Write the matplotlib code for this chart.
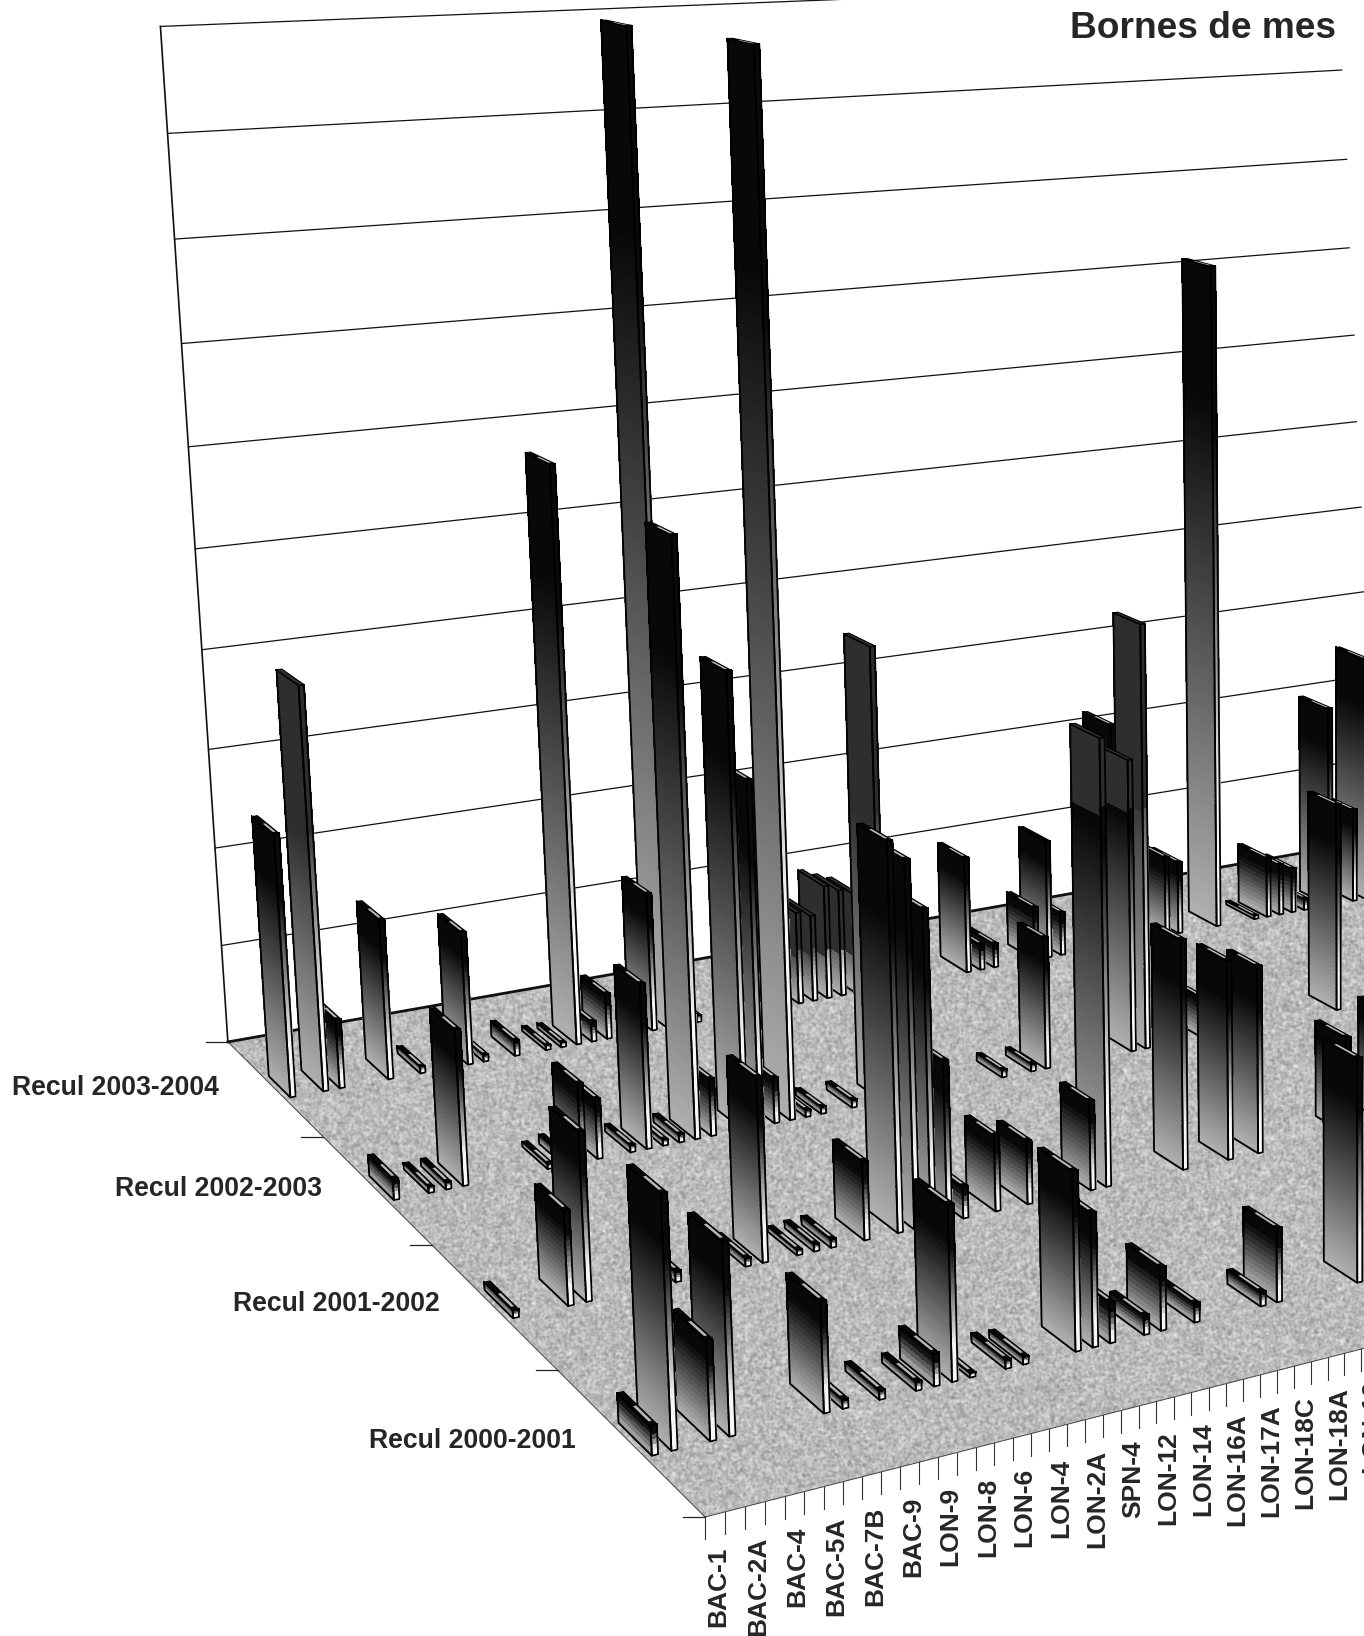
import numpy as np, matplotlib
matplotlib.use('Agg')
import matplotlib.pyplot as plt
from matplotlib.collections import PolyCollection

title_text = "Bornes de mes"
series_names = ["Recul 2000-2001", "Recul 2001-2002", "Recul 2002-2003", "Recul 2003-2004"]
station_labels = ["BAC-1", "BAC-2A", "BAC-4", "BAC-5A", "BAC-7B", "BAC-9", "LON-9", "LON-8", "LON-6", "LON-4",
                  "LON-2A", "SPN-4", "LON-12", "LON-14", "LON-16A", "LON-17A", "LON-18C", "LON-18A", "LON-19"]

cells_2000_01 = [0, 1, 3, 4, 9, 10, 12, 14, 15, 16, 17, 19, 20, 23, 24, 25, 27, 28, 30, 34, 35, 40]
values_2000_01 = [.25, 2.10, .84, 1.61, .94, .08, .08, .08, .28, 1.51, .04, .08, .07, 1.56, 1.17, .36, .17, .56, .17, .13, .66, 2.01]

cells_2001_02 = [0, 3, 4, 9, 13, 14, 16, 17, 18, 20, 22, 23, 24, 25, 26, 28, 30, 34, 35, 40, 43, 45, 51, 54]
values_2001_02 = [.07, .85, 1.51, .10, .08, 1.68, .05, .07, .08, .73, 3.57, 3.38, 2.91, 1.50, .30, .71, .60, .85, 4.19, 2.20, 1.92, 1.81, .95, 1.10]

cells_2002_03 = [0, 2, 3, 4, 9, 10, 11, 12, 14, 15, 16, 17, 18, 19, 21, 22, 23, 24, 25, 26, 28, 30, 38, 40, 41, 47, 48, 52, 62]
values_2002_03 = [.20, .06, .07, 1.48, .05, .09, .76, .58, .07, 1.60, .06, .08, 5.74, .56, 4.42, 3.37, .45, 10.08, .07, .07, .08, 4.47, .08, .08, 1.34, 2.99, 4.33, .42, 2.18]

cells_2003_04 = [0, 2, 3, 6, 8, 11, 12, 14, 16, 17, 18, 19, 20, 23, 24, 25, 26, 33, 34, 35, 36, 37, 38, 45, 46, 47,
                 50, 51, 52, 56, 60, 61, 64, 67, 68, 69, 70, 71, 73, 75, 76]
values_2003_04 = [2.61, 4.01, .69, 1.61, .07, 1.35, .07, .16, .05, .05, 5.86, .21, .47, 1.43, 10.00, .96, .07, .97, .91, 1.20, 1.13, 1.07, .38, 1.25, .28, .26,
                  .58, 1.28, .47, 2.44, .88, .80, 7.24, .04, .67, .57, .50, .13, 2.25, 1.05, 2.75]

# (row, cell) pairs printed with a flat dark upper part in the scan
dark_tops = {(3, 2), (2, 30), (1, 35), (3, 51), (2, 47), (2, 48)}
dark_group = {(3, 33), (3, 34), (3, 35), (3, 36), (3, 37)}

# perspective of the chart
A = np.array([705., 1517.]); Vx = np.array([7700., -273.]); Vy = np.array([-1182., -362.]); Vz = np.array([1361., 18100.])
al, be, ga = 0.002874, 0.0846, -0.00752
wx, wy = 0.16, 0.113

def proj(X, Y, Z):
    X, Y, Z = np.broadcast_arrays(np.asarray(X, float), np.asarray(Y, float), np.asarray(Z, float))
    w = al*X + be*Y + 1 + ga*Z
    px = (al*X*Vx[0] + be*Y*Vy[0] + A[0] + ga*Z*Vz[0]) / w
    py = (al*X*Vx[1] + be*Y*Vy[1] + A[1] + ga*Z*Vz[1]) / w
    return np.column_stack([px.ravel(), py.ravel()])

fig = plt.figure(figsize=(13.64, 16.36), dpi=100, facecolor='white')
ax = fig.add_axes([0, 0, 1, 1])
ax.set_xlim(0, 1364); ax.set_ylim(1636, 0); ax.axis('off')
FONT = 'Liberation Sans'

# floor: printed grain of the scan, as a fixed hash pattern
floor = proj([0, 300, 300, 0], [0, 0, 4, 4], [0, 0, 0, 0])
gy, gx = np.mgrid[0:1636:1636j, 0:1364:1364j]
grain = np.abs(np.modf(np.sin(gx*12.9898 + gy*78.233)*43758.5453)[0])
def soften(a):
    return (a + np.roll(a, 1, 0) + np.roll(a, 1, 1) + np.roll(a, -1, 0) + np.roll(a, -1, 1))/5
smooth = soften(soften(grain))
tex = np.clip(.73 + (smooth - .5)*.55, 0, 1)
im = ax.imshow(tex, cmap='gray', vmin=0, vmax=1, extent=(0, 1364, 1636, 0), aspect='auto', zorder=1, interpolation='bilinear')
clip = plt.Polygon(floor, closed=True, transform=ax.transData, fc='none', ec='none')
ax.add_patch(clip)
im.set_clip_path(clip)
ax.set_xlim(0, 1364); ax.set_ylim(1636, 0)
ax.plot(*proj([0, 300], [0, 0], [0, 0]).T, color='#444444', lw=.7, zorder=2)
ax.plot(*proj([0, 0], [0, 4], [0, 0]).T, color='#444444', lw=.7, zorder=2)

# wall
Xs = np.linspace(0, 300, 1500)
for z in range(0, 11):
    p = proj(Xs, np.full_like(Xs, 4.), np.full_like(Xs, float(z)))
    keep = p[:, 0] < 1344 + 0.04*(p[:, 1] - 67)
    ax.plot(p[keep, 0], p[keep, 1], color='#111111', lw=2.0 if z == 0 else 0.9, zorder=2)
ax.plot(*proj([0, 0], [4, 4], [0, 10]).T, color='#111111', lw=1.2, zorder=2)

# ticks
for y in range(5):
    q = proj([0], [y], [0])[0]
    ax.plot([q[0]-22, q[0]], [q[1], q[1]], color='#222222', lw=.9, zorder=2)
for x in range(0, 40):
    q = proj([x], [0], [0])[0]
    ax.plot([q[0], q[0]], [q[1], q[1]+22], color='#333333', lw=.8, zorder=2)

# bars
def grey(v):
    return (v, v, v, 1)

polys, fcs, ecs, lws, aas = [], [], [], [], []
def add(v, fc, ec='none', lw=0.0, aa=True):
    polys.append(v); fcs.append(fc); ecs.append(ec); lws.append(lw); aas.append(aa)

def dark_limit(x):
    return 833 - (x - 300)*0.03

def bar(cell, row, z):
    x0, x1 = cell + .5 - wx, cell + .5 + wx
    shrink = max(.9, 1 - .002*cell) if row == 3 else max(.8, 1 - .0055*cell)
    y0 = row + .5 - wy
    y1 = y0 + 2*wy*shrink
    n = int(np.clip(z*22, 6, 160))
    levels = np.linspace(z, 0, n+1)
    def tone(q, c):
        ym, xm = q[:, 1].mean(), q[:, 0].mean()
        if (row, cell) in dark_tops and ym < dark_limit(xm):
            return grey(.18)
        if (row, cell) in dark_group and ym < 950:
            return grey(.18)
        return grey(c)
    for i in range(n):
        t = (i + .5)/n
        w = 0.03 if t < .2 else 0.03 + (t-.2)/.8*0.66
        q = proj([x0, x0, x0, x0], [y0, y1, y1, y0], [levels[i], levels[i], levels[i+1], levels[i+1]])
        c = tone(q, w)
        add(q, c, c, .8, False)
        s = 0.04 if t < .25 else min(.97, 0.04 + (t-.25)/.55*0.93)
        q = proj([x0, x1, x1, x0], [y0, y0, y0, y0], [levels[i], levels[i], levels[i+1], levels[i+1]])
        c = tone(q, s)
        add(q, c, c, .8, False)
    lw_out = 1.3
    add(proj([x0, x0, x0, x0], [y0, y1, y1, y0], [z, z, 0, 0]), (0, 0, 0, 0), 'black', lw_out)
    add(proj([x0, x1, x1, x0], [y0, y0, y0, y0], [z, z, 0, 0]), (0, 0, 0, 0), 'black', lw_out)
    # top cap with its pale sliver
    cap = proj([x0, x1, x1, x0], [y0, y0, y1, y1], [z, z, z, z])
    add(cap, tone(cap, .03), 'black', .8)
    if (row, cell) not in dark_tops and (row, cell) not in dark_group:
        add(proj([x0+.09, x1-.07, x1-.07, x0+.09], [y0+.025, y0+.025, y0+.13, y0+.13], [z, z, z, z]), grey(.72), 'none', 0)

rows = [(0, cells_2000_01, values_2000_01), (1, cells_2001_02, values_2001_02),
        (2, cells_2002_03, values_2002_03), (3, cells_2003_04, values_2003_04)]
for r, cs, vs in reversed(rows):
    for c, v in sorted(zip(cs, vs), reverse=True):
        bar(c, r, v)
ax.add_collection(PolyCollection(polys, facecolors=fcs, edgecolors=ecs, linewidths=lws, antialiaseds=aas, zorder=3))

# text
right_edges = [576, 440, 322, 219]
middles = [1441, 1304, 1189, 1088]
for name, xr, ym in zip(series_names, right_edges, middles):
    ax.text(xr, ym, name, ha='right', va='center', fontsize=19.2, fontweight='bold', family=FONT, color='#262626', zorder=5)
for k, lab in enumerate(station_labels):
    q = proj([2*k + .5], [0], [0])[0]
    ax.text(q[0] + 3, q[1] + 32, lab, rotation=90, ha='center', va='top', fontsize=19, fontweight='bold',
            family=FONT, color='#262626', zorder=5)
ax.text(1336, 28, title_text, ha='right', va='center', fontsize=26.7, fontweight='bold', family=FONT, color='#262626', zorder=5)

fig.savefig('out.png', dpi=100)
